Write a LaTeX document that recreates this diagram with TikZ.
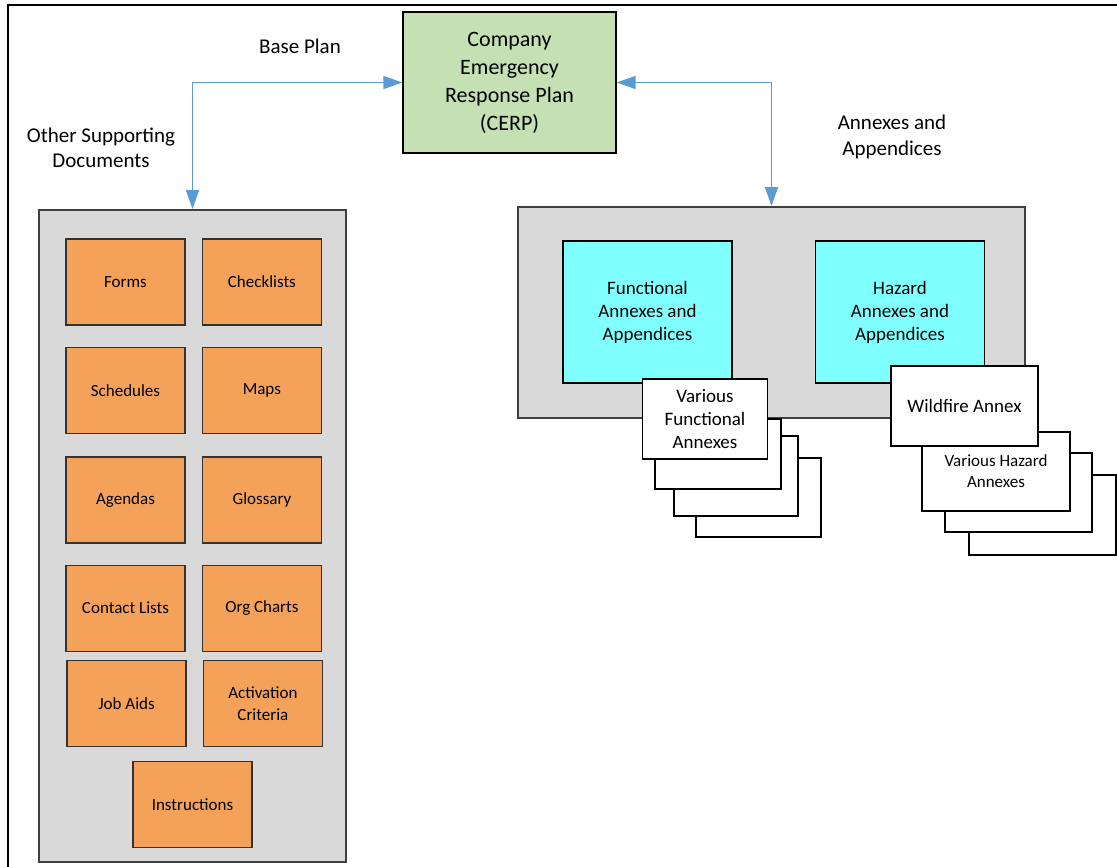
\documentclass[tikz,border=0pt]{standalone}
\usepackage{fontspec}
\setmainfont{Carlito}
\usetikzlibrary{arrows.meta,positioning}

\definecolor{planGreen}{HTML}{C5E0B3}
\definecolor{docOrange}{HTML}{F4A25A}
\definecolor{boxGray}{HTML}{D9D9D9}
\definecolor{annexCyan}{HTML}{80FFFF}
\definecolor{linkBlue}{HTML}{5B9BD5}

\newcommand{\fs}[2]{\fontsize{#1}{#2}\selectfont}

\begin{document}
\begin{tikzpicture}[x=1pt,y=-1pt,
    link/.style={{Triangle[length=19pt,width=13pt]}-{Triangle[length=19pt,width=13pt]},draw=linkBlue,line width=1.5pt},
    group/.style={draw=black!75,line width=2pt,fill=boxGray,inner sep=0pt},
    doc/.style={draw=black!80,line width=1.4pt,fill=docOrange,inner sep=0pt,minimum width=119pt,minimum height=86pt,align=center,font=\fs{17}{22}},
    annex/.style={draw=black,line width=1.2pt,fill=annexCyan,inner sep=0pt,minimum width=169pt,minimum height=142pt,align=center,font=\fs{19}{23}},
    sheet/.style={draw=black,line width=1.4pt,fill=white,inner sep=0pt,align=center},
    label/.style={align=center,font=\fs{21}{25}}]
  \useasboundingbox (0,0) rectangle (1117,867);

  % frame
  \draw[line width=2pt] (8,867) -- (8,5) -- (1117,5);

  % base plan
  \node[draw=black,line width=1.2pt,fill=planGreen,minimum width=213pt,minimum height=141pt,align=center,font=\fs{22}{28}] (cerp) at (509.5,82.5) {Company\\Emergency\\Response Plan\\(CERP)};

  \node[label] (baseLbl) at (300,46) {Base Plan};
  \node[label] (otherLbl) at (101,148) {Other Supporting\\Documents};
  \node[label,font=\fs{21}{26}] (annexLbl) at (892,137) {Annexes and\\Appendices};

  % supporting documents
  \node[group,minimum width=307pt,minimum height=652pt] (docs) at (192.5,536) {};
  \node[doc] (forms) at (125.5,282) {Forms};
  \node[doc,right=16pt of forms] (checklists) {Checklists};
  \node[doc,below=21pt of forms] (schedules) {Schedules};
  \node[doc,right=16pt of schedules] (maps) {Maps};
  \node[doc,below=22pt of schedules] (agendas) {Agendas};
  \node[doc,right=16pt of agendas] (glossary) {Glossary};
  \node[doc,below=21pt of agendas] (contacts) {Contact Lists};
  \node[doc,right=16pt of contacts] (orgcharts) {Org Charts};
  \node[doc] (jobaids) at (126.5,703.5) {Job Aids};
  \node[doc,right=16pt of jobaids] (activation) {Activation\\Criteria};
  \node[doc] (instructions) at (192.5,804.5) {Instructions};

  % annexes and appendices
  \node[group,minimum width=507pt,minimum height=211pt] (annexes) at (771.5,312.5) {};
  \node[annex] (functional) at (647.5,312) {Functional\\Annexes and\\Appendices};
  \node[annex] (hazard) at (900,312) {Hazard\\Annexes and\\Appendices};

  % functional annex stack
  \node[sheet,minimum width=125pt,minimum height=79pt] (func4) at (758.5,497.5) {};
  \node[sheet,minimum width=124pt,minimum height=80pt] (func3) at (736,476) {};
  \node[sheet,minimum width=126pt,minimum height=70pt] (func2) at (718,454) {};
  \node[sheet,minimum width=125pt,minimum height=80pt,font=\fs{19}{23}] (func1) at (705,419) {Various\\Functional\\Annexes};

  % hazard annex stack
  \node[sheet,minimum width=147pt,minimum height=80pt] (haz4) at (1042.5,515) {};
  \node[sheet,minimum width=147pt,minimum height=79pt] (haz3) at (1018.5,492.5) {};
  \node[sheet,minimum width=148pt,minimum height=79pt,font=\fs{17}{21}] (haz2) at (996,471.5) {Various Hazard\\Annexes};
  \node[sheet,minimum width=147pt,minimum height=80pt,font=\fs{19}{23}] (haz1) at (964.5,406) {Wildfire Annex};

  % links
  \draw[link] (cerp.west) -| (docs.north);
  \draw[link] (cerp.east) -| (annexes.north);
\end{tikzpicture}
\end{document}
